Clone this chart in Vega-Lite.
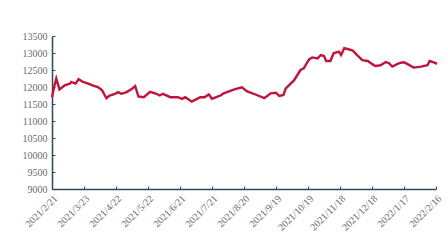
{
  "$schema": "https://vega.github.io/schema/vega-lite/v6.json",
  "width": 384,
  "height": 153,
  "autosize": {"type": "none"},
  "padding": {"left": 52, "top": 36, "right": 12, "bottom": 54},
  "background": "white",
  "config": {
    "view": {"stroke": null},
    "axis": {"labelFont": "Liberation Serif", "labelFontSize": 10, "labelColor": "#6b6b6b", "domainColor": "#2f4b57", "tickColor": "#2f4b57", "domainWidth": 1.5, "tickWidth": 1, "grid": false, "title": null}
  },
  "data": {"values": [
    {"d": "2021-02-21", "v": 11700}, {"d": "2021-02-23", "v": 12000}, {"d": "2021-02-25", "v": 12250},
    {"d": "2021-02-28", "v": 11930}, {"d": "2021-03-05", "v": 12050}, {"d": "2021-03-10", "v": 12100},
    {"d": "2021-03-11", "v": 12150}, {"d": "2021-03-15", "v": 12100}, {"d": "2021-03-18", "v": 12230},
    {"d": "2021-03-22", "v": 12150}, {"d": "2021-03-27", "v": 12100}, {"d": "2021-03-31", "v": 12050},
    {"d": "2021-04-05", "v": 12000}, {"d": "2021-04-09", "v": 11900}, {"d": "2021-04-13", "v": 11670},
    {"d": "2021-04-16", "v": 11750}, {"d": "2021-04-21", "v": 11800}, {"d": "2021-04-24", "v": 11850},
    {"d": "2021-04-27", "v": 11800}, {"d": "2021-05-02", "v": 11850}, {"d": "2021-05-07", "v": 11950},
    {"d": "2021-05-10", "v": 12030}, {"d": "2021-05-13", "v": 11720}, {"d": "2021-05-18", "v": 11700},
    {"d": "2021-05-24", "v": 11860}, {"d": "2021-05-30", "v": 11800}, {"d": "2021-06-02", "v": 11750},
    {"d": "2021-06-05", "v": 11800}, {"d": "2021-06-12", "v": 11700}, {"d": "2021-06-19", "v": 11700},
    {"d": "2021-06-23", "v": 11650}, {"d": "2021-06-26", "v": 11700}, {"d": "2021-07-02", "v": 11570},
    {"d": "2021-07-07", "v": 11650}, {"d": "2021-07-10", "v": 11700}, {"d": "2021-07-14", "v": 11700},
    {"d": "2021-07-18", "v": 11780}, {"d": "2021-07-21", "v": 11650}, {"d": "2021-07-25", "v": 11700},
    {"d": "2021-07-29", "v": 11750}, {"d": "2021-08-01", "v": 11815}, {"d": "2021-08-11", "v": 11930},
    {"d": "2021-08-18", "v": 11990}, {"d": "2021-08-23", "v": 11870}, {"d": "2021-09-01", "v": 11765},
    {"d": "2021-09-08", "v": 11670}, {"d": "2021-09-14", "v": 11815}, {"d": "2021-09-19", "v": 11830},
    {"d": "2021-09-22", "v": 11735}, {"d": "2021-09-26", "v": 11765}, {"d": "2021-09-28", "v": 11950},
    {"d": "2021-10-06", "v": 12200}, {"d": "2021-10-12", "v": 12500}, {"d": "2021-10-15", "v": 12550},
    {"d": "2021-10-20", "v": 12810}, {"d": "2021-10-23", "v": 12870}, {"d": "2021-10-28", "v": 12840},
    {"d": "2021-10-31", "v": 12940}, {"d": "2021-11-03", "v": 12910}, {"d": "2021-11-05", "v": 12765},
    {"d": "2021-11-09", "v": 12765}, {"d": "2021-11-12", "v": 12990}, {"d": "2021-11-17", "v": 13040},
    {"d": "2021-11-19", "v": 12940}, {"d": "2021-11-22", "v": 13140}, {"d": "2021-11-26", "v": 13110},
    {"d": "2021-11-30", "v": 13070}, {"d": "2021-12-04", "v": 12940}, {"d": "2021-12-09", "v": 12790},
    {"d": "2021-12-14", "v": 12765}, {"d": "2021-12-18", "v": 12680}, {"d": "2021-12-21", "v": 12620},
    {"d": "2021-12-26", "v": 12640}, {"d": "2021-12-31", "v": 12735}, {"d": "2022-01-03", "v": 12700},
    {"d": "2022-01-06", "v": 12600}, {"d": "2022-01-11", "v": 12680}, {"d": "2022-01-14", "v": 12715},
    {"d": "2022-01-17", "v": 12725}, {"d": "2022-01-20", "v": 12680}, {"d": "2022-01-26", "v": 12570},
    {"d": "2022-02-02", "v": 12600}, {"d": "2022-02-08", "v": 12640}, {"d": "2022-02-10", "v": 12765},
    {"d": "2022-02-14", "v": 12725}, {"d": "2022-02-17", "v": 12680}
  ]},
  "mark": {"type": "line", "color": "#c0143c", "strokeWidth": 2.4, "clip": false},
  "encoding": {
    "x": {
      "field": "d", "type": "temporal",
      "scale": {"type": "utc", "domain": [{"year": 2021, "month": 2, "date": 21, "utc": true}, {"year": 2022, "month": 2, "date": 16, "utc": true}]},
      "axis": {
        "values": [
          {"year": 2021, "month": 2, "date": 21, "utc": true}, {"year": 2021, "month": 3, "date": 23, "utc": true},
          {"year": 2021, "month": 4, "date": 22, "utc": true}, {"year": 2021, "month": 5, "date": 22, "utc": true},
          {"year": 2021, "month": 6, "date": 21, "utc": true}, {"year": 2021, "month": 7, "date": 21, "utc": true},
          {"year": 2021, "month": 8, "date": 20, "utc": true}, {"year": 2021, "month": 9, "date": 19, "utc": true},
          {"year": 2021, "month": 10, "date": 19, "utc": true}, {"year": 2021, "month": 11, "date": 18, "utc": true},
          {"year": 2021, "month": 12, "date": 18, "utc": true}, {"year": 2022, "month": 1, "date": 17, "utc": true},
          {"year": 2022, "month": 2, "date": 16, "utc": true}
        ],
        "labelExpr": "utcFormat(datum.value, '%Y/%-m/%-d')",
        "labelAngle": -45, "labelAlign": "right", "labelBaseline": "top",
        "tickSize": -3, "labelPadding": 7, "labelDx": 2, "labelOverlap": false, "labelFlush": false
      }
    },
    "y": {
      "field": "v", "type": "quantitative",
      "scale": {"domain": [9000, 13500], "nice": false, "zero": false},
      "axis": {"values": [9000, 9500, 10000, 10500, 11000, 11500, 12000, 12500, 13000, 13500], "format": "d", "tickSize": -3, "labelPadding": 8}
    }
  }
}
